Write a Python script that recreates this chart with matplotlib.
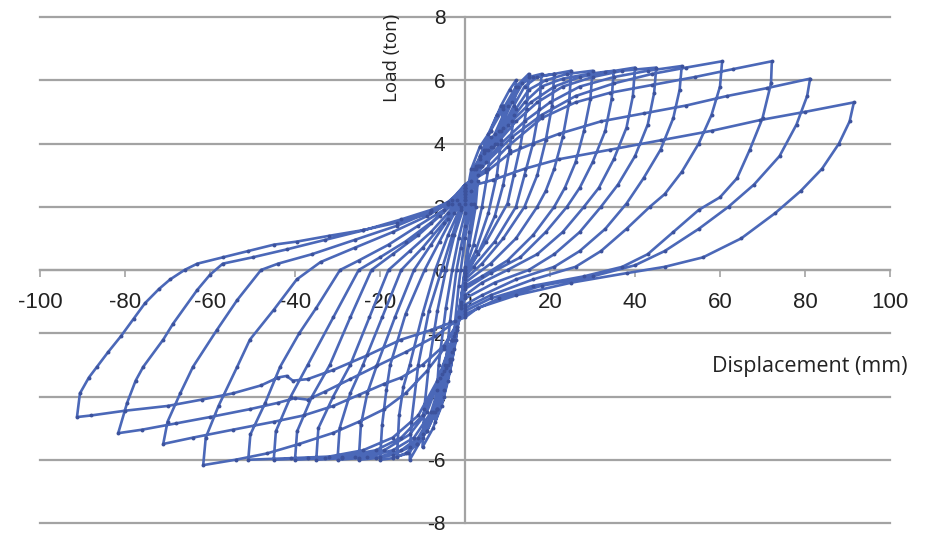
import matplotlib
matplotlib.use("Agg")
import matplotlib.pyplot as plt
import numpy as np

plt.rcParams["axes.unicode_minus"] = False

# cyclic load test, one array pair per cycle (disp in mm, load in ton)
c01_disp = [0, 1, 2, 3, 2.5, 1, 0, -1, -2, -3, -2.3, -1.5, -1, 0]
c01_load = [0, 1.2, 2.1, 2.8, 2.0, 0.8, 0.1, -1.0, -1.9, -2.6, -1.6, -0.5, 0.0, 1.0]

c02_disp = [1.5, 3, 4.5, 6, 5.5, 4, 2, 0, -1, -2.2, -3.5, -5, -4.6, -3.5, -2, -1, 0]
c02_load = [2.1, 3.0, 3.7, 4.2, 3.2, 2.0, 0.8, 0.0, -1.1, -2.2, -3.2, -3.8, -3.0, -1.6, 0.0, 0.7, 1.4]

c03_disp = [1.5, 3.5, 5.5, 7.5, 9, 8.5, 7.5, 5.5, 2.5, 0, -1, -2.5, -4, -5.5, -7, -6.6, -6.2, -4.5, -3, -1.5, 0]
c03_load = [2.5, 3.5, 4.3, 4.9, 5.2, 4.1, 3.0, 1.8, 0.6, -0.1, -1.2, -2.5, -3.5, -4.3, -4.8, -3.8, -3.0, -1.2, 0.0, 1.0, 1.8]

c04_disp = [1.5, 3.5, 6, 8.5, 10.5, 12, 11.5, 10.5, 9, 7, 3, 0, -1.5, -3, -5, -7.5, -10, -9.6, -8.5, -6.5, -4.5, -2.5, 0]
c04_load = [2.8, 3.6, 4.4, 5.2, 5.7, 6.0, 4.9, 3.8, 2.7, 1.7, 0.5, -0.2, -1.5, -2.8, -4.0, -5.0, -5.6, -4.4, -3.0, -1.3, 0.0, 1.1, 2.1]

c05_disp = [1.5, 3.5, 6, 9, 12, 15, 14.5, 13, 11.5, 10, 5, 0, -2, -3.5, -6.5, -10, -13, -12.6, -11, -8.5, -5.5, -3, -1, 0]
c05_load = [3.2, 3.9, 4.4, 5.1, 5.8, 6.2, 5.1, 3.9, 3.0, 2.1, 0.9, -0.1, -1.8, -2.9, -4.4, -5.3, -6.0, -4.8, -3.0, -1.3, 0.0, 1.1, 1.9, 2.2]

c06_disp = [2, 4.5, 7, 10, 12.5, 15, 18, 17.5, 16, 14, 12, 7, 2, 0, -2, -3.5, -6.6, -9, -11.3, -13.5, -16,
            -15.5, -14.5, -13, -10, -7, -4, -1, 0]
c06_load = [3.2, 3.8, 4.3, 5.2, 5.8, 6.1, 6.2, 5.1, 4.0, 3.0, 2.0, 0.9, 0.1, -0.2, -1.8, -2.8, -4.4, -5.1, -5.5, -5.8, -5.9,
            -4.6, -3.7, -3.0, -1.4, 0.0, 1.1, 2.0, 2.2]

c07_disp = [2.5, 5, 8, 11, 13.5, 16, 21, 20.5, 19, 17, 14, 9, 4, 0, -2, -3.5, -6.6, -9, -11.3, -14, -17, -20,
            -19.5, -18.5, -17.6, -14, -9.5, -6, -2.5, 0]
c07_load = [3.3, 3.8, 4.4, 5.3, 5.9, 6.1, 6.2, 5.2, 4.1, 3.0, 2.0, 1.0, 0.2, -0.3, -1.9, -2.84, -4.4, -5.1, -5.5, -5.8, -5.95, -6.0,
            -4.9, -3.8, -3.0, -1.4, 0.0, 0.9, 1.8, 2.3]

c08_disp = [2.5, 5.5, 8.5, 11.5, 14, 17, 21, 25, 24.5, 23, 21, 19, 17, 12, 6, 0, -2.3, -4, -7, -10, -13, -17, -21, -25,
            -24.5, -23, -20.7, -16.5, -12, -8, -4, 0]
c08_load = [3.2, 3.8, 4.4, 5.2, 5.8, 6.1, 6.2, 6.3, 5.3, 4.2, 3.2, 2.5, 2.0, 1.0, 0.2, -0.4, -2.0, -3.0, -4.5, -5.2, -5.6, -5.85, -5.95, -6.0,
            -4.9, -3.9, -3.0, -1.5, 0.0, 0.8, 1.6, 2.4]

c09_disp = [3, 6, 9, 12, 15, 19, 24, 30, 29.5, 28, 26, 23.5, 21, 16, 10, 4, 0, -2.5, -4.5, -7.5, -11, -15, -20, -25, -30,
            -29.5, -27, -24, -19.5, -15, -10, -5, -1.5, 0]
c09_load = [3.3, 3.9, 4.5, 5.1, 5.7, 6.0, 6.2, 6.3, 5.4, 4.4, 3.4, 2.6, 2.0, 1.1, 0.3, -0.2, -0.5, -2.1, -3.1, -4.5, -5.3, -5.7, -5.9, -5.95, -6.0,
            -5.0, -3.9, -3.0, -1.5, 0.0, 0.7, 1.5, 2.1, 2.4]

c10_disp = [3, 6.5, 10, 14, 18, 23, 29, 35, 34.5, 33, 30, 27, 24, 19, 13, 6, 0, -2.7, -5, -8, -12, -17, -23, -29, -35,
            -34.5, -31, -27, -22.5, -18, -13, -8, -4, 0]
c10_load = [3.3, 3.9, 4.6, 5.3, 5.8, 6.05, 6.2, 6.3, 5.4, 4.4, 3.4, 2.6, 2.0, 1.2, 0.4, -0.1, -0.6, -2.2, -3.2, -4.5, -5.3, -5.7, -5.9, -5.95, -6.0,
            -5.0, -4.0, -3.0, -1.5, 0.0, 0.6, 1.2, 1.8, 2.5]

c11_disp = [3.5, 7, 11, 15.5, 21, 27, 33, 40, 39.5, 38, 35, 31.5, 28, 23, 17, 10, 4, 0, -3, -5.5, -9, -13, -19, -26, -33, -40,
            -39.5, -36, -31.8, -27, -22, -17, -11, -6, -2, 0]
c11_load = [3.3, 4.0, 4.7, 5.3, 5.8, 6.1, 6.25, 6.4, 5.5, 4.5, 3.5, 2.6, 2.0, 1.2, 0.5, 0.0, -0.4, -0.8, -2.2, -3.3, -4.5, -5.2, -5.7, -5.9, -5.95, -6.0,
            -5.1, -4.0, -3.0, -1.5, 0.0, 0.5, 1.1, 1.7, 2.2, 2.5]

c12_disp = [3.5, 7.5, 12, 17, 23, 30, 37, 45, 44.5, 43, 40, 36, 32, 27, 21, 15, 7, 0, -3, -6, -10, -15, -21, -29, -37, -45,
            -44.5, -41, -37, -31, -25, -20, -14, -8, -3, 0]
c12_load = [3.3, 4.0, 4.7, 5.3, 5.8, 6.1, 6.3, 6.4, 5.6, 4.6, 3.6, 2.7, 2.0, 1.2, 0.5, 0.0, -0.4, -0.9, -2.2, -3.4, -4.6, -5.3, -5.7, -5.9, -5.95, -6.0,
            -5.1, -4.0, -3.0, -1.5, 0.0, 0.4, 0.9, 1.5, 2.1, 2.6]

c13_disp = [4, 8.5, 14, 20, 27, 35, 43, 51, 50.5, 49, 46, 42, 38, 33, 27, 21, 12, 4, 0, -3, -6.5, -11, -17, -24, -32, -41, -51,
            -50.5, -47, -43.5, -39, -35, -29.4, -25, -18, -11, -5, 0]
c13_load = [3.3, 4.0, 4.7, 5.3, 5.8, 6.1, 6.3, 6.45, 5.7, 4.8, 3.8, 2.9, 2.1, 1.3, 0.6, 0.1, -0.3, -0.8, -1.1, -2.2, -3.5, -4.6, -5.3, -5.7, -5.9, -5.95, -6.0,
            -5.2, -4.2, -3.06, -2.0, -1.2, 0.0, 0.3, 0.8, 1.4, 1.9, 2.6]

c14_disp = [5, 11, 18, 26, 35, 44, 52, 60.5, 60, 58, 55, 51, 47, 43.5, 38, 32, 26, 16, 6, 0,
            -5, -9, -14, -19, -25, -31, -39, -46.6, -54, -61.6,
            -61, -58, -53.6, -50.6, -45, -39.6, -34, -26, -17, -9, -4, 0]
c14_load = [3.4, 4.2, 4.9, 5.5, 5.9, 6.2, 6.4, 6.6, 5.8, 4.9, 4.0, 3.1, 2.4, 2.0, 1.3, 0.6, 0.1, -0.3, -0.8, -1.2,
            -2.5, -3.2, -3.9, -4.4, -4.8, -5.15, -5.5, -5.8, -6.0, -6.17,
            -5.3, -4.3, -3.06, -2.2, -1.26, -0.3, 0.25, 0.7, 1.2, 1.7, 2.1, 2.7]

c15_disp = [5, 10, 18, 26, 34, 44, 54, 63, 72.2, 72, 70, 67, 64, 60, 55, 49, 43, 37, 28, 16, 6, 0,
            -5, -10, -15, -19, -25, -31, -38, -45, -54.6, -64, -71,
            -70, -67, -64, -58.4, -53.6, -48, -44, -36, -26, -16, -8, -3, 0]
c15_load = [3.2, 3.9, 4.8, 5.3, 5.6, 5.85, 6.1, 6.35, 6.6, 5.9, 4.8, 3.8, 2.9, 2.3, 1.9, 1.2, 0.5, 0.1, -0.2, -0.5, -0.9, -1.3,
            -2.4, -3.0, -3.4, -3.6, -3.95, -4.3, -4.6, -4.8, -5.05, -5.3, -5.5,
            -4.8, -3.9, -3.06, -1.9, -0.95, 0.0, 0.2, 0.5, 0.95, 1.4, 1.85, 2.2, 2.7]

c16_disp = [5, 10.6, 16, 22, 32, 42, 52, 61.6, 71, 81.2, 80.5, 78, 74, 68, 62, 55, 47, 40, 30, 18, 8, 0,
            -7, -14, -21, -27, -33, -37, -40, -44, -50.6, -60, -68, -76, -81.6,
            -79.5, -77.5, -75.7, -71, -68.7, -63, -60, -57, -50, -42, -33, -24, -15, -8, -4, 0]
c16_load = [3.1, 3.7, 4.0, 4.3, 4.7, 4.95, 5.2, 5.5, 5.75, 6.05, 5.5, 4.6, 3.6, 2.7, 2.0, 1.3, 0.6, 0.15, -0.2, -0.5, -0.9, -1.4,
            -2.1, -2.6, -3.05, -3.45, -3.85, -4.1, -4.05, -4.2, -4.4, -4.65, -4.85, -5.05, -5.16,
            -4.2, -3.5, -3.06, -2.2, -1.7, -0.63, -0.15, 0.2, 0.4, 0.65, 0.95, 1.25, 1.6, 1.9, 2.15, 2.6]

c17_disp = [6.6, 14, 22, 34, 46, 58, 69.4, 80, 91.5, 90.5, 88, 84, 79, 73, 65, 56, 47, 38, 25, 12, 3, 0,
            -8, -15, -23, -31, -37, -40.5, -42, -44, -48, -54.6, -62, -70, -80, -88, -91.3,
            -90.6, -88.5, -86.6, -84, -81, -78, -75.3, -72, -69.4, -66, -63, -57, -51, -45, -39.5, -32, -24, -16, -8.2, -4, 0]
c17_load = [2.85, 3.2, 3.5, 3.8, 4.1, 4.4, 4.74, 5.0, 5.3, 4.7, 4.0, 3.2, 2.5, 1.8, 1.0, 0.4, 0.1, -0.1, -0.4, -0.8, -1.2, -1.5,
            -1.9, -2.2, -2.7, -3.16, -3.45, -3.5, -3.35, -3.4, -3.65, -3.9, -4.1, -4.3, -4.45, -4.6, -4.65,
            -3.9, -3.4, -3.06, -2.6, -2.1, -1.55, -1.05, -0.6, -0.3, 0.0, 0.2, 0.4, 0.6, 0.8, 0.9, 1.08, 1.26, 1.5, 1.8, 2.1, 2.5]

cycles = [
    (c01_disp, c01_load), (c02_disp, c02_load), (c03_disp, c03_load), (c04_disp, c04_load),
    (c05_disp, c05_load), (c06_disp, c06_load), (c07_disp, c07_load), (c08_disp, c08_load),
    (c09_disp, c09_load), (c10_disp, c10_load), (c11_disp, c11_load), (c12_disp, c12_load),
    (c13_disp, c13_load), (c14_disp, c14_load), (c15_disp, c15_load), (c16_disp, c16_load),
    (c17_disp, c17_load),
]

x_ticks = [-100, -80, -60, -40, -20, 0, 20, 40, 60, 80, 100]
y_ticks = [-8, -6, -4, -2, 0, 2, 4, 6, 8]

disp = np.concatenate([np.asarray(d, dtype=float) for d, _ in cycles])
load = np.concatenate([np.asarray(f, dtype=float) for _, f in cycles])

fig = plt.figure(figsize=(9.25, 5.34), dpi=100)
ax = fig.add_axes([40 / 925, 11 / 534, 850 / 925, 506 / 534])

grid_col = "#a3a3a3"
for yv in y_ticks:
    ax.axhline(yv, color=grid_col, lw=1.6, zorder=1, clip_on=False)

ax.plot(disp, load, color="#4b68b8", lw=1.9, marker="o", ms=2.8,
        mfc="#3c529c", mec="none", zorder=3)

ax.set_xlim(-100, 100)
ax.set_ylim(-8, 8)

for side in ["top", "right"]:
    ax.spines[side].set_visible(False)
for side in ["left", "bottom"]:
    ax.spines[side].set_position(("data", 0))
    ax.spines[side].set_color(grid_col)
    ax.spines[side].set_linewidth(1.6)
    ax.spines[side].set_zorder(1)

ax.set_xticks(x_ticks)
ax.set_yticks(y_ticks)
ax.set_xticklabels([str(v) for v in x_ticks])
ax.set_yticklabels([str(v) for v in y_ticks])
ax.tick_params(axis="x", direction="out", length=5, width=1.2, color=grid_col,
               pad=11, labelsize=16, labelcolor="#222222")
ax.tick_params(axis="y", direction="out", length=0, pad=14,
               labelsize=15, labelcolor="#222222")
for lab in ax.get_xticklabels() + ax.get_yticklabels():
    lab.set_fontfamily("Liberation Sans")

ax.text(-17.2, 6.7, "Load (ton)", rotation=90, ha="center", va="center",
        fontsize=13.5, family="Open Sans", color="#222222")
ax.text(58.1, -3.06, "Displacement (mm)", ha="left", va="center",
        fontsize=15.5, family="Open Sans", color="#222222")

fig.savefig("out.png", dpi=100, facecolor="white")
